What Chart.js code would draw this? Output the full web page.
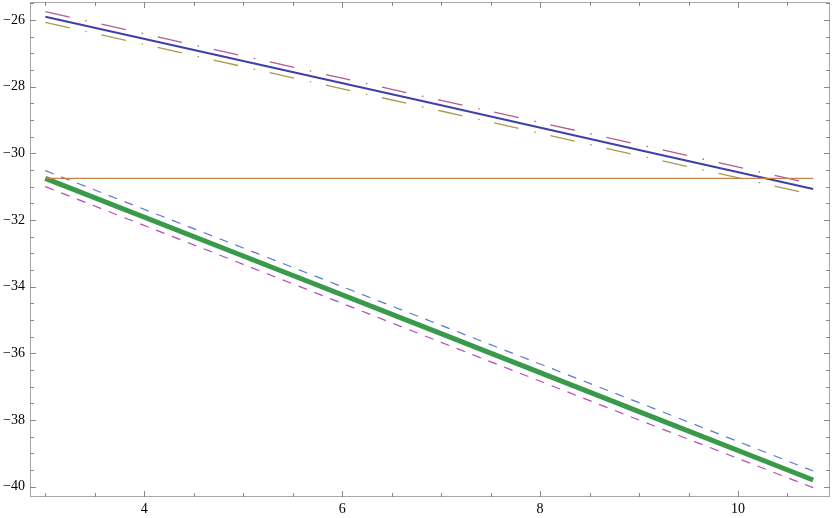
<!DOCTYPE html>
<html>
<head>
<meta charset="utf-8">
<script src="https://cdn.jsdelivr.net/npm/chart.js@4.4.1/dist/chart.umd.min.js"></script>
<style>
  html, body { margin: 0; padding: 0; background: #ffffff; }
  #wrap { width: 832px; height: 518px; position: relative; }
</style>
</head>
<body>
<div id="wrap"><canvas id="c" width="832" height="518"></canvas></div>
<script>
// ---- data ----
const xValues = [3, 5, 7, 9, 10.76];
const solidBlue      = [-25.90, -27.23, -28.56, -29.90, -31.07];
const dashDotMagenta = [-25.75, -27.08, -28.41, -29.74, -30.92];
const dashDotOlive   = [-26.07, -27.40, -28.73, -30.07, -31.24];
const flatOrange     = [-30.75, -30.75, -30.75, -30.75, -30.75];
const thickGreen     = [-30.75, -33.08, -35.41, -37.75, -39.80];
const dashedBlue     = [-30.52, -32.84, -35.16, -37.48, -39.53];
const dashedMagenta  = [-31.00, -33.33, -35.67, -38.00, -40.03];

const xTicks = [4, 6, 8, 10];
const yTicks = [-40, -38, -36, -34, -32, -30, -28, -26];
const xRange = [2.845, 10.93];
const yRange = [-40.31, -25.46];
const minorStep = 0.5;

function pts(ys) { return xValues.map((x, i) => ({ x: x, y: ys[i] })); }
function fmt(v) { return (v < 0 ? '\u2212' : '') + Math.abs(v); }

const framePlugin = {
  id: 'frame',
  afterDraw(chart) {
    const ctx = chart.ctx, a = chart.chartArea;
    const xs = chart.scales.x, ys = chart.scales.y;
    ctx.save();
    ctx.strokeStyle = '#a8a8a8';
    ctx.lineWidth = 1;
    ctx.strokeRect(a.left + 0.5, a.top + 0.5, a.right - a.left - 1, a.bottom - a.top - 1);
    const isMajor = (v, arr) => arr.some(t => Math.abs(t - v) < 1e-6);
    ctx.strokeStyle = '#888888';
    for (let v = Math.ceil(xRange[0] / minorStep) * minorStep; v <= xRange[1]; v += minorStep) {
      const px = Math.round(xs.getPixelForValue(v)) + 0.5;
      const len = isMajor(v, xTicks) ? 6 : 4;
      ctx.beginPath();
      ctx.moveTo(px, a.bottom); ctx.lineTo(px, a.bottom - len);
      ctx.moveTo(px, a.top); ctx.lineTo(px, a.top + len);
      ctx.stroke();
    }
    for (let v = Math.ceil(yRange[0] / minorStep) * minorStep; v <= yRange[1]; v += minorStep) {
      const py = Math.round(ys.getPixelForValue(v)) + 0.5;
      const len = isMajor(v, yTicks) ? 6 : 4;
      ctx.beginPath();
      ctx.moveTo(a.left, py); ctx.lineTo(a.left + len, py);
      ctx.moveTo(a.right, py); ctx.lineTo(a.right - len, py);
      ctx.stroke();
    }
    ctx.restore();
  }
};

const base = { pointRadius: 0, fill: false, tension: 0, borderCapStyle: 'butt' };

new Chart(document.getElementById('c'), {
  type: 'line',
  data: {
    datasets: [
      Object.assign({ data: pts(flatOrange), borderColor: '#c4844c', borderWidth: 1.3 }, base),
      Object.assign({ data: pts(thickGreen), borderColor: '#3a9a4c', borderWidth: 5 }, base),
      Object.assign({ data: pts(dashedBlue), borderColor: '#5a7bc8', borderWidth: 1.2, borderDash: [9, 8] }, base),
      Object.assign({ data: pts(dashedMagenta), borderColor: '#b04fb4', borderWidth: 1.2, borderDash: [9, 8] }, base),
      Object.assign({ data: pts(dashDotMagenta), borderColor: '#b65a95', borderWidth: 1.3, borderDash: [25, 16, 1.5, 15] }, base),
      Object.assign({ data: pts(dashDotOlive), borderColor: '#a89a50', borderWidth: 1.3, borderDash: [25, 16, 1.5, 15] }, base),
      Object.assign({ data: pts(solidBlue), borderColor: '#3f3fa8', borderWidth: 2 }, base)
    ]
  },
  options: {
    responsive: false,
    animation: false,
    events: [],
    layout: { padding: { left: 0, right: 2, top: 2, bottom: 0 } },
    plugins: { legend: { display: false }, tooltip: { enabled: false } },
    scales: {
      x: {
        type: 'linear',
        min: xRange[0], max: xRange[1],
        grid: { display: false, drawTicks: false },
        border: { display: false },
        afterBuildTicks: s => { s.ticks = xTicks.map(v => ({ value: v })); },
        afterFit: s => { s.height = 21; s.paddingLeft = 0; s.paddingRight = 0; s.paddingTop = 0; s.paddingBottom = 0; },
        ticks: {
          padding: 4,
          maxRotation: 0,
          autoSkip: false,
          color: '#000000',
          font: { family: 'Liberation Serif', size: 14 },
          callback: v => fmt(v)
        }
      },
      y: {
        type: 'linear',
        min: yRange[0], max: yRange[1],
        grid: { display: false, drawTicks: false },
        border: { display: false },
        afterBuildTicks: s => { s.ticks = yTicks.map(v => ({ value: v })); },
        afterFit: s => { s.width = 30; s.paddingLeft = 0; s.paddingRight = 0; s.paddingTop = 0; s.paddingBottom = 0; },
        ticks: {
          padding: 5,
          autoSkip: false,
          color: '#000000',
          font: { family: 'Liberation Serif', size: 14 },
          callback: v => fmt(v)
        }
      }
    }
  },
  plugins: [framePlugin]
});
</script>
</body>
</html>
